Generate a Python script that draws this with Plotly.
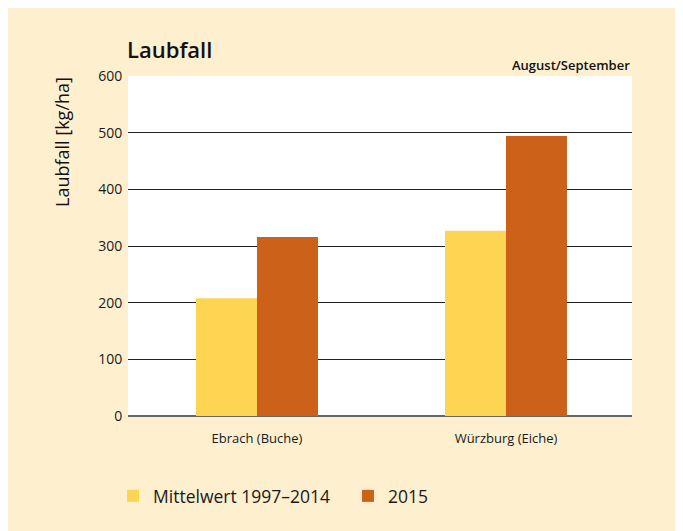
import plotly.graph_objects as go

categories = ["Ebrach (Buche)", "Würzburg (Eiche)"]
mittelwert = [208, 327]
jahr2015 = [316, 494]
series_names = ["Mittelwert 1997\u20132014", "2015"]
y_ticks = [0, 100, 200, 300, 400, 500, 600]

OFF = 8  # page body margin
W, H = 683 - OFF, 531 - OFF
# plot area in reference (window) pixels
L, R, T, B = 128, 632, 76, 416
Lf, Rf, Tf, Bf = L - OFF, R - OFF, T - OFF, B - OFF
FONT = "Open Sans"


def fx(x):
    return (x - L) / (R - L)


def fy(y):
    return (B - y) / (B - T)


fig = go.Figure()
fig.add_trace(go.Bar(x=categories, y=mittelwert, name=series_names[0],
                     marker=dict(color="#FED553", line=dict(width=0))))
fig.add_trace(go.Bar(x=categories, y=jahr2015, name=series_names[1],
                     marker=dict(color="#CC6119", line=dict(width=0))))

fig.update_layout(
    width=W, height=H,
    margin=dict(l=Lf, r=W - Rf, t=Tf, b=H - Bf, autoexpand=False),
    paper_bgcolor="#FEEFCF",
    plot_bgcolor="white",
    barmode="group",
    bargap=0.51,
    bargroupgap=0,
    font=dict(family=FONT, color="#1a1a1a"),
    showlegend=True,
    legend=dict(orientation="h", x=fx(113), xanchor="left",
                y=fy(496), yanchor="middle",
                font=dict(size=17.5, family=FONT, color="#1a1a1a"),
                bgcolor="rgba(0,0,0,0)", itemwidth=30, entrywidth=190,
                entrywidthmode="pixels", traceorder="normal"),
    xaxis=dict(type="category", range=[-0.518, 1.506], showgrid=False,
               ticks="outside", ticklen=10, tickcolor="rgba(0,0,0,0)",
               tickfont=dict(size=13, family=FONT, color="#1a1a1a"),
               showline=False, fixedrange=True),
    yaxis=dict(range=[0, 600], tickvals=y_ticks, showgrid=True, gridcolor="#222222",
               gridwidth=1.3, zeroline=True, zerolinecolor="#666666", zerolinewidth=2,
               ticks="outside", ticklen=2, tickcolor="rgba(0,0,0,0)",
               tickfont=dict(size=14, family=FONT, color="#1a1a1a"), showline=False),
    annotations=[
        dict(text="Laubfall", xref="paper", yref="paper", x=fx(125), xanchor="left",
             y=fy(49), yanchor="middle", showarrow=False,
             font=dict(size=22, family=FONT, color="#111111", weight=600)),
        dict(text="August/September", xref="paper", yref="paper", x=fx(632), xanchor="right",
             y=fy(65), yanchor="middle", showarrow=False,
             font=dict(size=13, family=FONT, color="#111111", weight=600)),
        dict(text="Laubfall [kg/ha]", xref="paper", yref="paper", x=fx(62),
             xanchor="center", y=fy(75), yanchor="top", textangle=-90,
             showarrow=False, font=dict(size=18, family=FONT, color="#111111")),
    ],
)

fig.write_html("out.html")
